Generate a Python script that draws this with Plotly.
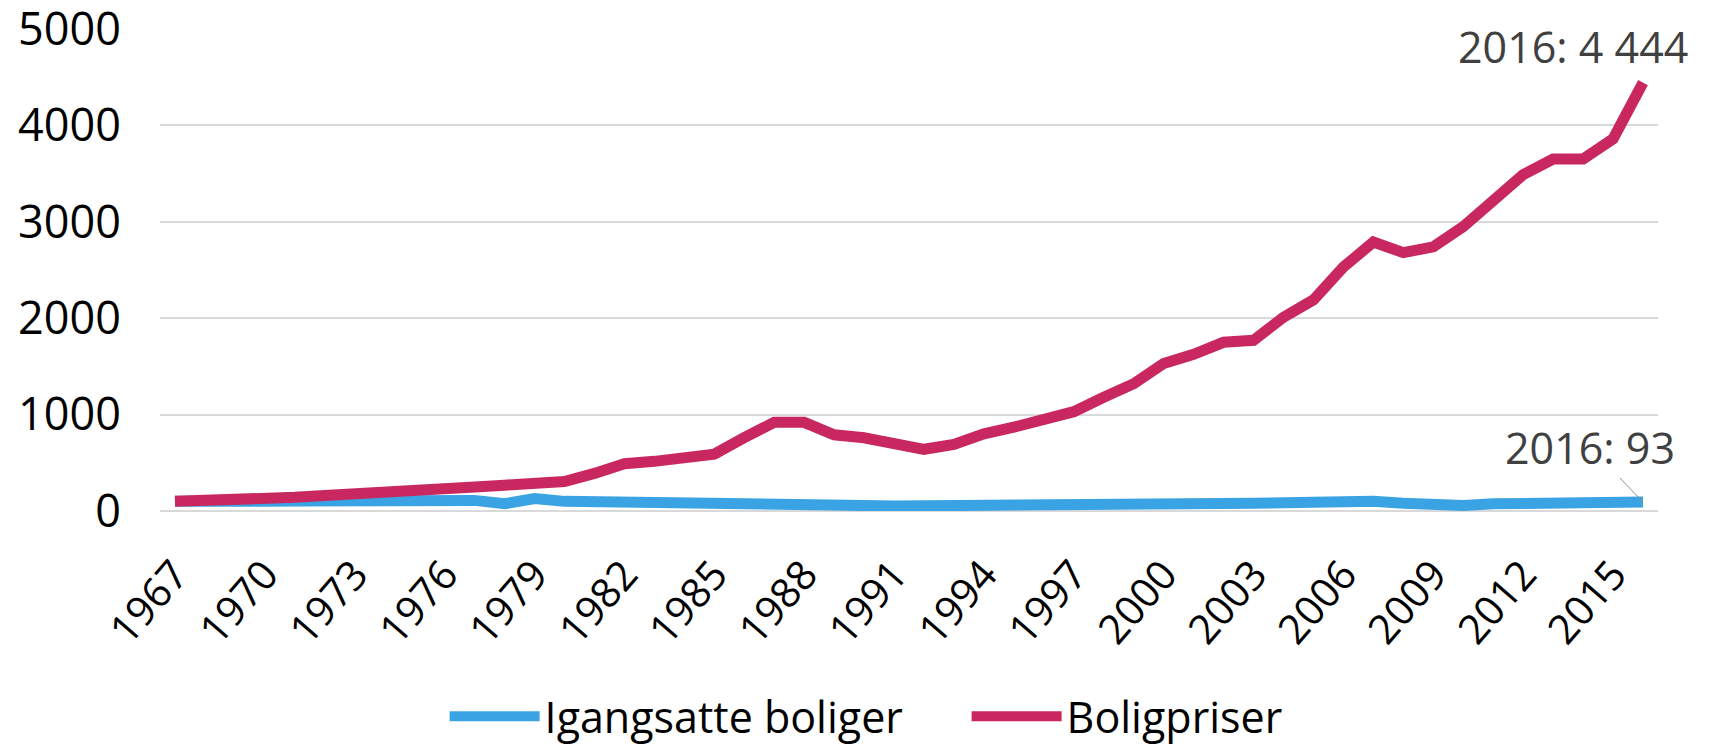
import plotly.graph_objects as go

years = list(range(1967, 2017))

boligpriser = [100, 105, 115, 130, 142, 160, 172, 190, 208, 215,
               248, 268, 285, 305, 390, 490, 515, 555, 590, 760,
               920, 920, 790, 760, 700, 640, 690, 800, 870, 950,
               1030, 1180, 1320, 1530, 1625, 1750, 1770, 2010, 2190, 2530,
               2790, 2680, 2740, 2950, 3230, 3490, 3650, 3650, 3860, 4444]

igangsatte = [100, 92, 98, 102, 105, 108, 110, 115, 120, 122,
              110, 75, 130, 100, 98, 100, 98, 80, 72, 72,
              74, 74, 70, 58, 52, 52, 52, 52, 52, 52,
              52, 52, 60, 75, 78, 80, 80, 85, 98, 105,
              102, 80, 55, 58, 75, 82, 82, 82, 88, 93]

tick_years = years[::3]
y_ticks = [0, 1000, 2000, 3000, 4000, 5000]

blue = "#3AA3E3"
red = "#C8285F"
font_family = "Open Sans, Calibri, sans-serif"

fig = go.Figure()
fig.add_trace(go.Scatter(x=years, y=igangsatte, mode="lines", name="Igangsatte boliger",
                         line=dict(color=blue, width=11)))
fig.add_trace(go.Scatter(x=years, y=boligpriser, mode="lines", name="Boligpriser",
                         line=dict(color=red, width=11)))

fig.add_annotation(x=2016, y=4444, text="2016: 4 444", showarrow=False,
                   xanchor="right", xshift=47, yshift=36,
                   font=dict(size=43, color="#404040"))
fig.add_annotation(x=2016, y=93, text="2016: 93", showarrow=True, arrowhead=0,
                   arrowwidth=1, arrowcolor="#8C8C8C", ax=-53, ay=-55, standoff=0,
                   font=dict(size=43, color="#404040"))

fig.update_layout(
    width=1702, height=743,
    paper_bgcolor="white", plot_bgcolor="white",
    margin=dict(l=152, r=52, t=20, b=240, autoexpand=False),
    font=dict(family=font_family, size=42, color="#000000"),
    showlegend=True,
    legend=dict(orientation="h", x=0.19, xanchor="left", y=-0.425, yanchor="middle",
                font=dict(size=43, color="#000000"), itemwidth=90, traceorder="normal",
                entrywidth=417),
    xaxis=dict(range=[1966.5, 2016.5], tickmode="array", tickvals=tick_years,
               ticktext=[str(y) for y in tick_years], tickangle=-49,
               showgrid=False, zeroline=False, showline=False, ticks="",
               tickfont=dict(size=41), ticklabelstandoff=30),
    yaxis=dict(range=[0, 5010], tickvals=y_ticks, showgrid=True, gridcolor="#D9D9D9",
               gridwidth=1.5, zeroline=True, zerolinecolor="#D9D9D9", zerolinewidth=1.5,
               showline=False, ticks="", ticklabelstandoff=38, tickfont=dict(size=45),
               ticklabeloverflow="allow"),
)

fig.write_html("out.html")
